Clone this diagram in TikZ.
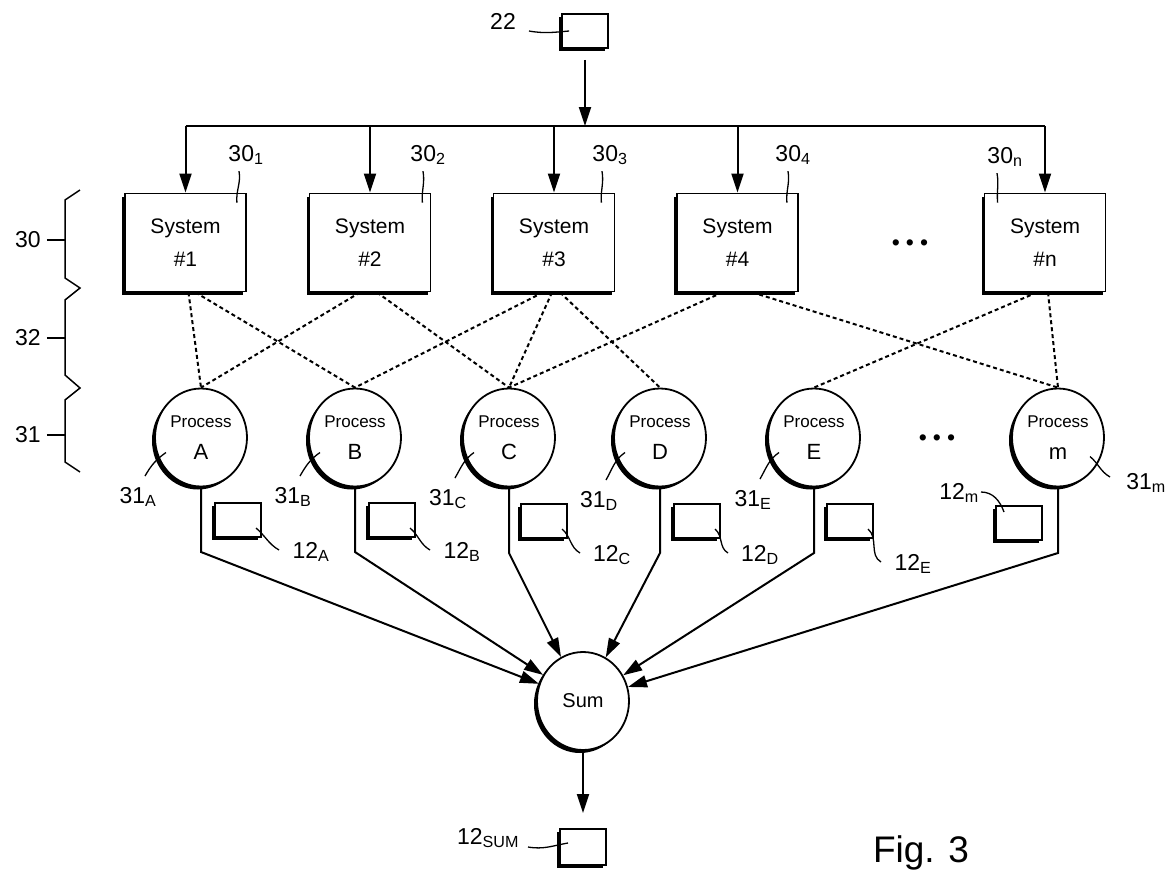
\documentclass[tikz,border=0pt]{standalone}
\usepackage{fontspec}
\setmainfont{Liberation Sans}
\usetikzlibrary{arrows.meta,shadows,shapes.geometric}

\newcommand\proclbl[1]{Process\\{\fontsize{22}{32}\selectfont #1}}

\tikzset{
  heavy/.style={drop shadow={shadow xshift=-3pt,shadow yshift=-3pt,opacity=1,fill=black}},
  sysbox/.style={draw,fill=white,line width=1.8pt,minimum width=121pt,minimum height=98pt,
    align=center,font=\fontsize{21}{33}\selectfont,heavy},
  proc/.style={draw,fill=white,ellipse,line width=1.8pt,minimum width=92pt,minimum height=98pt,
    inner sep=0pt,align=center,font=\fontsize{17}{32}\selectfont,heavy},
  databox/.style={draw,fill=white,line width=1.8pt,minimum width=46pt,minimum height=34pt,heavy},
  lbl/.style={inner sep=1pt,font=\fontsize{23}{26}\selectfont},
  lead/.style={line width=1.3pt},
  wire/.style={line width=2pt},
  link/.style={line width=2pt,dash pattern=on 4pt off 3pt},
  flow/.style={line width=2pt,-{Triangle[length=19pt,width=12pt]}},
}

\begin{document}
\begin{tikzpicture}[x=1pt,y=-1pt]
\useasboundingbox (0,0) rectangle (1171,873);

% feed
\node[databox] (d22) at (585,31) {};
\node[lbl] (l22) at (503,21) {22};
\draw[lead] ([shift={(12,10)}]l22.east) to[out=-10,in=185] ([xshift=8pt]d22.west);
\coordinate (bus) at (585,126);
\draw[flow] ([yshift=-11pt]d22.south) -- (bus);

% systems
\foreach \i/\x in {1/185.5,2/370,3/554,4/737.5}
  \node[sysbox] (s\i) at (\x,242.5) {System\\\#\i};
\node[sysbox] (sn) at (1045,242.5) {System\\\#n};
\draw[wire] (s1.north |- bus) -- (sn.north |- bus);
\foreach \s in {s1,s2,s3,s4,sn}
  \draw[flow] (\s.north |- bus) -- (\s.north);
\node[lbl] (dots1) at (910,245) {•\hspace{6pt}•\hspace{6pt}•};

\foreach \i/\x/\a/\b in {1/246/-7/-10,2/428/-5/-9,3/610/-8/-14,4/793/-5/-12}{
  \node[lbl] (l\i) at (\x,155) {30\textsubscript{\i}};
  \draw[lead] ([shift={(\a,5)}]l\i.south) to[out=-80,in=95] ([shift={(\b,10)}]s\i.north east);
}
\node[lbl] (ln) at (1005,157) {30\textsubscript{n}};
\draw[lead] ([shift={(-8,5)}]ln.south) to[out=-80,in=95] ([shift={(14,10)}]sn.north west);

% processes
\foreach \p/\x in {A/201,B/355,C/509,D/660,E/814}
  \node[proc] (p\p) at (\x,437.5) {\proclbl{\p}};
\node[proc] (pm) at (1058,437.5) {\proclbl{m}};
\node[lbl] (dots2) at (937,440) {•\hspace{6pt}•\hspace{6pt}•};

% links between the layers
\foreach \a/\b/\o in {s1/pA/3,s1/pB/10,s2/pA/-10,s2/pC/7,s3/pB/-11,s3/pC/-2,s3/pD/6,
                      s4/pC/-15,s4/pm/15,sn/pE/-8,sn/pm/3}
  \draw[link] ([xshift=\o pt]\a.south) -- (\b.north);

\foreach \p/\x/\y in {A/138/497,B/293/497,C/448/499,D/599/501,E/753/500}{
  \node[lbl] (n\p) at (\x,\y) {31\textsubscript{\p}};
  \draw[lead] ([shift={(-35,15)}]p\p.center) to[out=215,in=60] ([shift={(7,-21)}]n\p.center);
}
\node[lbl] (nm) at (1146,483) {31\textsubscript{m}};
\draw[lead] ([shift={(32,19)}]pm.center) to[out=-40,in=150] ([shift={(-36,-6)}]nm.center);

% data
\foreach \p/\x/\y/\u/\v in {A/238/520/311/552,B/392/520/462/552,C/544/521/612/555,
                            D/697/521/760/555,E/850/521/913/564}{
  \node[databox] (d\p) at (\x,\y) {};
  \node[lbl] (t\p) at (\u,\v) {12\textsubscript{\p}};
  \draw[lead] ([shift={(18,8)}]d\p.center) to[out=-40,in=150] ([shift={(-32,-2)}]t\p.center);
}
\node[databox] (dm) at (1019,523) {};
\node[lbl] (tm) at (959,493) {12\textsubscript{m}};
\draw[lead] ([shift={(22,-1)}]tm.center) to[out=0,in=110] ([shift={(-15,-11)}]dm.center);

% sum
\node[proc,font=\fontsize{20}{24}\selectfont] (sum) at (583,701) {Sum};
\foreach \p/\h in {A/552,B/552,C/553,D/553,E/553,m/553}
  \draw[flow] (p\p.south) -- (p\p.south |- 0,\h) -- (sum);
\node[databox,minimum height=36pt] (dsum) at (583,847) {};
\draw[flow] (sum) -- ([yshift=15pt]dsum.north);
\node[lbl] (tsum) at (488,838) {12\textsubscript{SUM}};
\draw[lead] ([shift={(40,9)}]tsum.center) to[out=-10,in=190] ([shift={(-15,-4)}]dsum.center);

% layer brace
\coordinate (brace) at (65,0);
\draw[wire,line width=1.5pt] (80,190) -- (65,200) -- (65,278) -- (80,288) -- (65,300)
  -- (65,375) -- (80,388) -- (65,400) -- (65,462) -- (80,472);
\foreach \t/\y in {30/240,32/338,31/435}{
  \node[lbl] (g\t) at (28,\y) {\t};
  \draw[wire,line width=1.5pt,shorten <=5pt] (g\t.east) -- (g\t.east -| brace);
}

\node[font=\fontsize{37}{40}\selectfont,anchor=base] (fig) at (921,862) {Fig. 3};
\end{tikzpicture}
\end{document}
